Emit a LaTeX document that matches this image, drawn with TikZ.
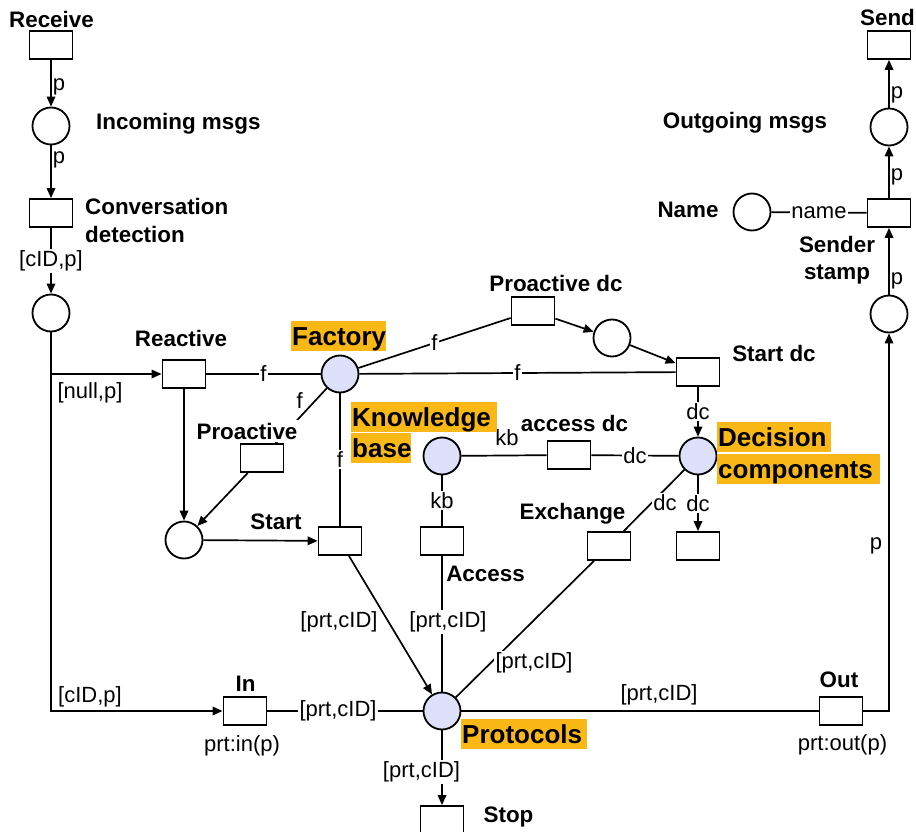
\documentclass[tikz,border=0pt]{standalone}
\usepackage{fontspec}
\setmainfont{Liberation Sans}
\usetikzlibrary{arrows.meta}
\definecolor{hlorange}{RGB}{249,184,22}
\definecolor{tokenfill}{RGB}{222,224,250}

\begin{document}
\begin{tikzpicture}[x=1pt,y=-1pt,
  every node/.style={font=\fontsize{22}{26}\selectfont},
  trans/.style={draw, line width=1.8pt, minimum width=43pt, minimum height=28pt, inner sep=0pt, fill=white},
  place/.style={draw, circle, line width=1.8pt, minimum size=37pt, inner sep=0pt, fill=white},
  kplace/.style={place, fill=tokenfill},
  arc/.style={line width=1.7pt},
  arr/.style={arc, -{Triangle[length=10pt,width=8.5pt]}},
  lbl/.style={fill=white, inner sep=1.5pt},
  plbl/.style={right, inner sep=1pt},
  title/.style={font=\fontsize{22.4}{27}\selectfont\bfseries, inner sep=1pt},
  hl/.style={fill=hlorange, font=\fontsize{26}{30}\selectfont\bfseries, inner xsep=1pt, inner ysep=0pt,
             text height=24.5pt, text depth=5.5pt, anchor=north west, align=left},
]
\useasboundingbox (0,0) rectangle (916,832);

% ---- transitions
\node[trans] (recv)  at (51,45) {};
\node[trans] (conv)  at (51,213) {};
\node[trans] (react) at (184,374) {};
\node[trans] (pdc)   at (533,311) {};
\node[trans] (sdc)   at (698,372) {};
\node[trans] (adc)   at (569,455) {};
\node[trans] (pro)   at (262,458) {};
\node[trans] (start) at (340,541) {};
\node[trans] (acc)   at (442,541) {};
\node[trans] (exch)  at (609,546) {};
\node[trans] (dco)   at (698,546) {};
\node[trans] (in)    at (245,711) {};
\node[trans] (stop)  at (442,820) {};
\node[trans] (out)   at (841,711) {};
\node[trans] (ss)    at (889,213) {};
\node[trans] (send)  at (889,45) {};

% ---- places
\node[place]  (inc)  at (51,126) {};
\node[place]  (cp)   at (51,313) {};
\node[kplace] (fact) at (340,374) {};
\node[place]  (pp)   at (612,338) {};
\node[kplace] (dcp)  at (698,456) {};
\node[kplace] (kb)   at (442,456) {};
\node[place]  (lp)   at (184,540) {};
\node[kplace] (prot) at (442,711) {};
\node[place]  (name) at (752,212) {};
\node[place]  (outg) at (889,127) {};
\node[place]  (op)   at (889,314) {};

\coordinate (fork) at (51,374);

% ---- arcs: message intake
\draw[arr] (recv) -- node[plbl, pos=0.57]{p} (inc);
\draw[arr] (inc) -- node[plbl, pos=0.27]{p} (conv);
\draw[arr] (conv) -- node[lbl]{[cID,p]} (cp);
\draw[arr] (cp) |- (in);
\draw[arr] (fork) -- (react);

% ---- arcs: factory
\draw[arc] (react) -- node[lbl]{f} (fact);
\draw[arc] (fact) -- node[lbl]{f} ([yshift=-7pt]pdc.west);
\draw[arc] (fact) -- node[lbl]{f} (sdc);
\draw[arc] (fact) -- node[pos=0.22, xshift=-16pt]{f} (pro);
\draw[arc] (fact) -- node[lbl]{f} (start);
\draw[arr] (pdc) -- (pp);
\draw[arr] (pp) -- (sdc);

% ---- arcs: conversation start
\draw[arr] (react) -- (lp);
\draw[arr] (pro) -- (lp);
\draw[arr] (lp) -- (start);
\draw[arr] (start) -- (prot);

% ---- arcs: knowledge base and decision components
\draw[arr] (sdc) -- node[lbl]{dc} (dcp);
\draw[arc] (kb) -- (adc);
\draw[arc] (adc) -- node[lbl]{dc} (dcp);
\draw[arc] (kb) -- node[lbl]{kb} (acc);
\draw[arc] (dcp) -- (exch);
\draw[arr] (dcp) -- node[lbl]{dc} (dco);

% ---- arcs: protocols
\draw[arc] (acc) -- (prot);
\draw[arc] (exch) -- (prot);
\draw[arc] (in) -- node[lbl, pos=0.455]{[prt,cID]} (prot);
\draw[arc] (prot) -- (out);
\draw[arr] (prot) -- (stop);

% ---- arcs: sending
\draw[arr] (out) -| (op);
\draw[arr] (op) -- node[plbl, pos=0.21]{p} (ss);
\draw[arc] (name) -- node[lbl]{name} (ss);
\draw[arr] (ss) -- node[plbl, pos=0.41]{p} (outg);
\draw[arr] (outg) -- node[plbl, pos=0.27]{p} (send);

% ---- free-standing arc inscriptions
\node[lbl] (l1) at (90,393) {[null,p]};
\node[lbl] (l2) at (90,697) {[cID,p]};
\node[lbl] (l3) at (339,622) {[prt,cID]};
\node[lbl] (l4) at (448,622) {[prt,cID]};
\node[lbl] (l5) at (534,663) {[prt,cID]};
\node[lbl] (l6) at (665,503) {dc};
\node[lbl] (l7) at (507,438) {kb};
\node[lbl] (l8) at (659,695) {[prt,cID]};
\node[lbl] (l9) at (421.5,772) {[prt,cID]};
\node[lbl] (l10) at (876,546) {p};
\node (l11) at (242,746) {prt:in(p)};
\node (l12) at (842.5,745) {prt:out(p)};

% ---- element names
\node[title] at (51.5,19) {Receive};
\node[title, anchor=west] at (95,124) {Incoming msgs};
\node[title, anchor=west, align=left, font=\fontsize{22.4}{28}\selectfont\bfseries] at (84,220) {Conversation\\detection};
\node[title] at (181,338.5) {Reactive};
\node[title, fill=white, inner sep=3pt] at (247,431) {Proactive};
\node[title] at (276,521.5) {Start};
\node[title] at (556,283.5) {Proactive dc};
\node[title] at (774,353.5) {Start dc};
\node[title] at (574.5,423.5) {access dc};
\node[title] at (572.5,514) {Exchange};
\node[title] at (485.5,573.5) {Access};
\node[title] at (245.5,683.5) {In};
\node[title] at (839,679.5) {Out};
\node[title] at (508.5,817) {Stop};
\node[title] at (688,210) {Name};
\node[title] at (745,123) {Outgoing msgs};
\node[title] at (887.5,17.5) {Send};
\node[title, align=center] at (837,260) {Sender\\stamp};

% ---- highlighted names of the shared places
\node[hl, text width=93pt]  at (291,321) {Factory};
\node[hl, text width=144pt] at (351,402) {Knowledge};
\node[hl, text width=58pt]  at (351,433) {base};
\node[hl, text width=112pt] at (717,422) {Decision};
\node[hl, text width=161pt] at (717,454) {components};
\node[hl, text width=124pt] at (461,719) {Protocols};
\end{tikzpicture}
\end{document}
